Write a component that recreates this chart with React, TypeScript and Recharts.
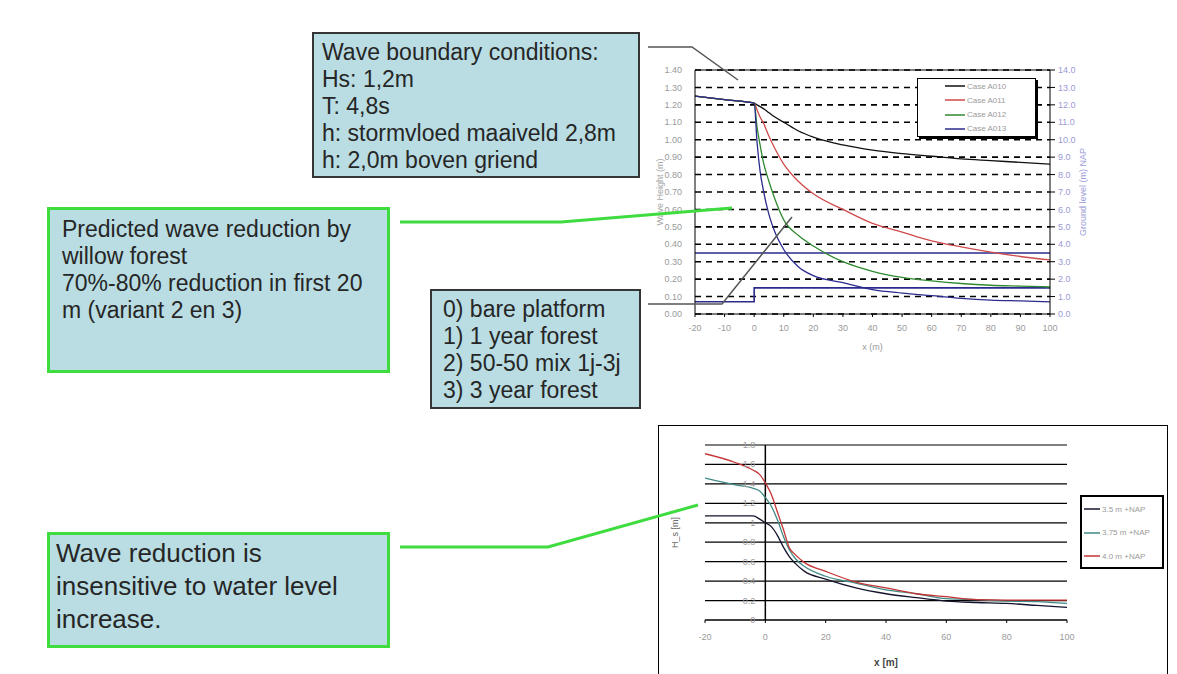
import { LineChart, Line, XAxis, YAxis, CartesianGrid, ReferenceLine } from 'recharts';

// top chart: wave height along the transect, four vegetation cases
const TOP_X = [-20, -10, 0, 1, 2, 3, 5, 7, 10, 15, 20, 30, 40, 50, 60, 70, 80, 90, 100];
const CASE_A010 = [1.25, 1.23, 1.21, 1.2, 1.19, 1.18, 1.155, 1.13, 1.1, 1.05, 1.015, 0.97, 0.94, 0.92, 0.905, 0.89, 0.88, 0.87, 0.86];
const CASE_A011 = [1.25, 1.23, 1.21, 1.17, 1.13, 1.1, 1.02, 0.95, 0.86, 0.76, 0.69, 0.6, 0.52, 0.47, 0.42, 0.385, 0.355, 0.33, 0.31];
const CASE_A012 = [1.25, 1.23, 1.21, 1.07, 0.97, 0.88, 0.76, 0.66, 0.54, 0.45, 0.39, 0.3, 0.245, 0.21, 0.19, 0.175, 0.165, 0.16, 0.155];
const CASE_A013 = [1.25, 1.23, 1.21, 0.98, 0.82, 0.72, 0.57, 0.47, 0.37, 0.27, 0.22, 0.18, 0.14, 0.12, 0.105, 0.09, 0.08, 0.075, 0.07];
const TOP_NAMES = ['Case A010', 'Case A011', 'Case A012', 'Case A013'];
const TOP_COLORS = ['#111111', '#d04a4a', '#2f8a2f', '#2b2b8e'];

// ground level and storm water level (right axis, m NAP)
const GROUND_X = [-20, 0, 0, 100];
const GROUND_LEVEL = [0.7, 0.7, 1.5, 1.5];
const WATER_X = [-20, 100];
const WATER_LEVEL = [3.5, 3.5];

const TOP_X_TICKS = [-20, -10, 0, 10, 20, 30, 40, 50, 60, 70, 80, 90, 100];
const TOP_Y_TICKS = [0, 0.1, 0.2, 0.3, 0.4, 0.5, 0.6, 0.7, 0.8, 0.9, 1.0, 1.1, 1.2, 1.3, 1.4];
const TOP_R_TICKS = [0, 1, 2, 3, 4, 5, 6, 7, 8, 9, 10, 11, 12, 13, 14];

// bottom chart: wave height for three water levels
const BOT_X = [-20, -10, -4, -2, 0, 2, 4, 6, 8, 10, 13, 20, 30, 40, 50, 60, 70, 80, 90, 100];
const LEVEL_35 = [1.07, 1.07, 1.07, 1.04, 1.0, 0.96, 0.87, 0.75, 0.65, 0.58, 0.5, 0.42, 0.33, 0.27, 0.23, 0.195, 0.18, 0.17, 0.15, 0.13];
const LEVEL_375 = [1.46, 1.39, 1.355, 1.33, 1.26, 1.17, 1.03, 0.86, 0.72, 0.63, 0.55, 0.45, 0.38, 0.31, 0.27, 0.22, 0.21, 0.195, 0.19, 0.17];
const LEVEL_40 = [1.71, 1.62, 1.54, 1.5, 1.41, 1.29, 1.11, 0.93, 0.74, 0.67, 0.59, 0.5, 0.39, 0.33, 0.27, 0.24, 0.21, 0.205, 0.205, 0.205];
const BOT_NAMES = ['3.5 m +NAP', '3.75 m +NAP', '4.0 m +NAP'];
const BOT_COLORS = ['#14142e', '#3f8a86', '#c43434'];
const BOT_X_TICKS = [-20, 0, 20, 40, 60, 80, 100];
const BOT_Y_TICKS = [0, 0.2, 0.4, 0.6, 0.8, 1.0, 1.2, 1.4, 1.6, 1.8];

const toPoints = (xs: number[], ys: number[]) => xs.map((x, i) => ({ x, y: ys[i] }));

const FONT = '"Liberation Sans", Arial, sans-serif';
const BOX_FILL = '#b9dde3';
const GREEN = '#3fdc3f';
const DARK = '#353535';

const B_W = 510;
const B_MARGIN = { top: 20, right: 101, bottom: 15, left: 7 };
const B_YAXIS_W = 40;
const B_PLOT_W = B_W - B_MARGIN.left - B_MARGIN.right - B_YAXIS_W;
// y labels sit next to the x = 0 axis, not at the left edge
const B_TICK_SHIFT = (B_PLOT_W * (0 - -20)) / (100 - -20);

function ShiftedTick(props: any) {
  const { x, y, payload } = props;
  return (
    <text x={x + B_TICK_SHIFT} y={y} textAnchor="end" dominantBaseline="central" fontSize={9} fill="#9a9a9a" fontFamily={FONT}>
      {String(Number(payload.value.toFixed(1)))}
    </text>
  );
}

function TextBox({ left, top, width, height, border, fontSize, lineHeight, pad, lines }: any) {
  return (
    <div
      style={{
        position: 'absolute', left, top, width, height, boxSizing: 'border-box',
        background: BOX_FILL, border, padding: pad, fontSize, lineHeight: lineHeight + 'px',
        color: '#262626', fontFamily: FONT, whiteSpace: 'nowrap',
      }}
    >
      {lines.map((l: string) => (
        <div key={l}>{l}</div>
      ))}
    </div>
  );
}

function LegendBox({ left, top, width, height, names, colors, rowTop, rowH, sampleX, sampleW, border, shadow }: any) {
  return (
    <div
      style={{
        position: 'absolute', left, top, width, height, boxSizing: 'border-box', background: '#fff',
        border, boxShadow: shadow, fontFamily: FONT,
      }}
    >
      {names.map((n: string, i: number) => (
        <div key={n} style={{ position: 'absolute', left: sampleX, top: rowTop + i * rowH - 6, height: 12, display: 'flex', alignItems: 'center', fontSize: 8, color: '#9a9a9a', whiteSpace: 'nowrap' }}>
          <svg width={sampleW} height={4} style={{ flex: 'none' }}>
            <line x1={0} y1={2} x2={sampleW} y2={2} stroke={colors[i]} strokeWidth={1.5} />
          </svg>
          <span style={{ marginLeft: 2 }}>{n}</span>
        </div>
      ))}
    </div>
  );
}

export default function App() {
  const axisTick = { fontSize: 9, fill: '#9a9a9a', fontFamily: FONT };
  return (
    <div style={{ position: 'absolute', left: 0, top: 0, width: 1177, height: 674, overflow: 'hidden', background: '#fff', fontFamily: FONT }}>
      {/* top chart */}
      <div style={{ position: 'absolute', left: 640, top: 55 }}>
        <LineChart width={470} height={300} margin={{ top: 15, right: 5, bottom: 5, left: 5 }}>
          <CartesianGrid vertical={false} stroke="#000" strokeWidth={1.6} strokeDasharray="6 5" />
          <XAxis
            dataKey="x" type="number" domain={[-20, 100]} ticks={TOP_X_TICKS} interval={0} height={36}
            stroke="#000" tickSize={3} tickMargin={8} tick={axisTick} allowDataOverflow
            label={{ value: 'x (m)', position: 'insideBottom', offset: 0, style: { fontSize: 9, fill: '#9a9a9a' } }}
          />
          <YAxis
            type="number" domain={[0, 1.4]} ticks={TOP_Y_TICKS} interval={0} width={50} stroke="#000"
            tickLine={false} tickMargin={7} tick={axisTick} tickFormatter={(v: number) => v.toFixed(2)}
            label={{ value: 'Wave Height (m)', angle: -90, position: 'insideLeft', offset: 15, style: { fontSize: 9, fill: '#a6a6a6', textAnchor: 'middle' } }}
          />
          <YAxis
            yAxisId="right" orientation="right" type="number" domain={[0, 14]} ticks={TOP_R_TICKS} interval={0} width={55}
            stroke="#000" tickSize={5} tickMargin={3} tick={{ ...axisTick, fill: '#9a9ad6' }}
            tickFormatter={(v: number) => v.toFixed(1)}
            label={{ value: 'Ground level (m) NAP', angle: -90, position: 'insideRight', offset: 22, style: { fontSize: 9, fill: '#9a9ad6', textAnchor: 'middle' } }}
          />
          <ReferenceLine y={1.4} stroke="#000" strokeWidth={1.2} />
          <Line yAxisId="right" data={toPoints(WATER_X, WATER_LEVEL)} dataKey="y" type="linear" stroke="#2b2b8e" strokeWidth={1.3} dot={false} isAnimationActive={false} name="Water level" />
          <Line yAxisId="right" data={toPoints(GROUND_X, GROUND_LEVEL)} dataKey="y" type="linear" stroke="#2b2b8e" strokeWidth={1.6} dot={false} isAnimationActive={false} name="Ground level" />
          {[CASE_A010, CASE_A011, CASE_A012, CASE_A013].map((vals, i) => (
            <Line
              key={TOP_NAMES[i]} data={toPoints(TOP_X, vals)} dataKey="y" name={TOP_NAMES[i]} type="monotone"
              stroke={TOP_COLORS[i]} strokeWidth={1.3} dot={false} isAnimationActive={false}
            />
          ))}
        </LineChart>
      </div>
      <LegendBox
        left={917} top={78} width={119} height={59} names={TOP_NAMES} colors={TOP_COLORS}
        rowTop={7} rowH={14.3} sampleX={27} sampleW={20} border="1.5px solid #000" shadow="2px 2px 0 #000"
      />

      {/* bottom chart */}
      <div style={{ position: 'absolute', left: 658, top: 425, width: B_W, height: 260, boxSizing: 'border-box', border: '1px solid #000' }} />
      <div style={{ position: 'absolute', left: 658, top: 425 }}>
        <LineChart width={B_W} height={260} margin={B_MARGIN}>
          <CartesianGrid vertical={false} stroke="#000" strokeWidth={1.2} />
          <XAxis
            dataKey="x" type="number" domain={[-20, 100]} ticks={BOT_X_TICKS} interval={0} height={50}
            stroke="#000" tickSize={3} tickMargin={11} tick={axisTick} allowDataOverflow
            label={{ value: 'x [m]', position: 'insideBottom', offset: 4, style: { fontSize: 10, fill: '#444', fontWeight: 'bold' } }}
          />
          <YAxis
            type="number" domain={[0, 1.8]} ticks={BOT_Y_TICKS} interval={0} width={B_YAXIS_W} axisLine={false} tickLine={false}
            tickSize={6} tickMargin={4} tick={<ShiftedTick />}
            label={{ value: 'H_s [m]', angle: -90, position: 'insideLeft', offset: 10, style: { fontSize: 9, fill: '#666', textAnchor: 'middle' } }}
          />
          <ReferenceLine x={0} stroke="#000" strokeWidth={1.5} />
          {[LEVEL_35, LEVEL_375, LEVEL_40].map((vals, i) => (
            <Line
              key={BOT_NAMES[i]} data={toPoints(BOT_X, vals)} dataKey="y" name={BOT_NAMES[i]} type="monotone"
              stroke={BOT_COLORS[i]} strokeWidth={1.3} dot={false} isAnimationActive={false}
            />
          ))}
        </LineChart>
      </div>
      <LegendBox
        left={1080} top={495} width={84} height={74} names={BOT_NAMES} colors={BOT_COLORS}
        rowTop={12} rowH={23.5} sampleX={2} sampleW={16} border="2px solid #000" shadow="none"
      />

      {/* callout lines */}
      <svg width={1177} height={674} style={{ position: 'absolute', left: 0, top: 0, pointerEvents: 'none' }}>
        <polyline points="648,47 692,47 738,80" fill="none" stroke="#555" strokeWidth={1.5} />
        <polyline points="400,222 561,222 732,208" fill="none" stroke={GREEN} strokeWidth={3} />
        <polyline points="648,304 722,304 792,217" fill="none" stroke="#555" strokeWidth={1.5} />
        <polyline points="400,547 548,547 698,505" fill="none" stroke={GREEN} strokeWidth={3} />
      </svg>

      <TextBox
        left={312} top={32} width={328} height={146} border={`2px solid ${DARK}`} fontSize={23} lineHeight={27}
        pad="5px 0 0 8px"
        lines={['Wave boundary conditions:', 'Hs: 1,2m', 'T: 4,8s', 'h: stormvloed maaiveld 2,8m', 'h: 2,0m boven griend']}
      />
      <TextBox
        left={47} top={207} width={343} height={166} border={`3px solid ${GREEN}`} fontSize={23} lineHeight={27}
        pad="6px 0 0 12px"
        lines={['Predicted wave reduction by', 'willow forest', '70%-80% reduction in first 20', 'm (variant 2 en 3)']}
      />
      <TextBox
        left={430} top={289} width={211} height={120} border={`2px solid ${DARK}`} fontSize={23} lineHeight={27}
        pad="5px 0 0 11px"
        lines={['0) bare platform', '1) 1 year forest', '2) 50-50 mix 1j-3j', '3) 3 year forest']}
      />
      <TextBox
        left={47} top={532} width={343} height={116} border={`3px solid ${GREEN}`} fontSize={26} lineHeight={33}
        pad="2px 0 0 6px"
        lines={['Wave reduction is', 'insensitive to water level', 'increase.']}
      />
    </div>
  );
}
